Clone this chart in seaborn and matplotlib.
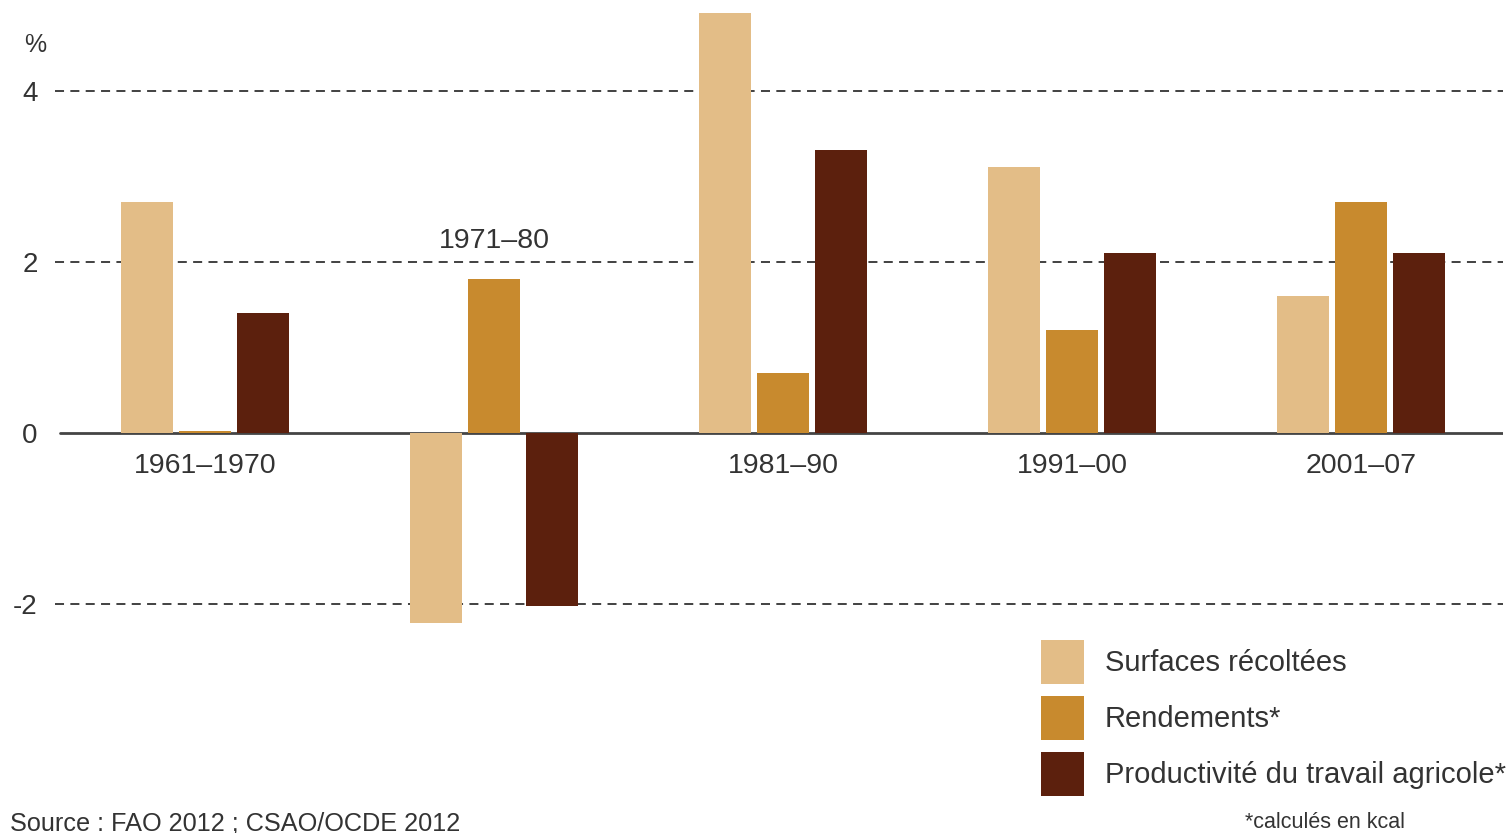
import pandas as pd
import numpy as np
import matplotlib.pyplot as plt
import seaborn as sns

periods = ["1961–1970", "1971–80", "1981–90", "1991–00", "2001–07"]
series = ["Surfaces récoltées", "Rendements*", "Productivité du travail agricole*"]
surfaces = [2.7, -2.22, 4.91, 3.11, 1.6]
rendements = [0.02, 1.8, 0.7, 1.2, 2.7]
productivite = [1.4, -2.02, 3.31, 2.11, 2.11]
colors = ["#E3BD87", "#C88A2E", "#5C200D"]
yticks = [-2, 0, 2, 4]

df = pd.DataFrame({
    "periode": periods * 3,
    "serie": [series[0]] * 5 + [series[1]] * 5 + [series[2]] * 5,
    "valeur": surfaces + rendements + productivite,
})

sns.set_style("white")
plt.rcParams["font.family"] = ["Liberation Sans", "DejaVu Sans"]
txt = "#333333"

fig = plt.figure(figsize=(15.1, 8.33), dpi=100)
ax = fig.add_axes([55 / 1510, 0, 1 - 62 / 1510, 1])

sns.barplot(data=df, x="periode", y="valeur", hue="serie", order=periods,
            hue_order=series, palette=colors, width=0.6, gap=0.1,
            linewidth=0, saturation=1, errorbar=None, ax=ax)

ax.set_xlim(-0.519, 4.491)
ax.set_ylim(-4.678, 5.064)

for y in [-2, 2, 4]:
    ax.axhline(y, color="#333333", lw=1.3, ls=(0, (5, 3.5)), zorder=0.5)
ax.axhline(0, color="#444444", lw=2, xmin=5 / 1448, zorder=0.5)

for s in ax.spines.values():
    s.set_visible(False)
ax.set_xticks([])
ax.set_yticks(yticks)
ax.set_yticklabels([str(t) for t in yticks], fontsize=20, color=txt)
ax.tick_params(axis="y", length=0, pad=12.5)
ax.set_xlabel("")
ax.set_ylabel("")

# period labels, under the zero line except 1971-80 which sits above its bars
for i, p in enumerate(periods):
    yl = 2.24 if p == "1971–80" else -0.39
    ax.text(i, yl, p, ha="center", va="center", fontsize=20.5, color=txt)

fig.text(35 / 1510, 1 - 45 / 833, "%", ha="center", va="center", fontsize=18, color=txt)

handles, labels = ax.get_legend_handles_labels()
ax.legend(handles, labels, loc="upper left", bbox_to_anchor=(1041 / 1510, 1 - 640 / 833),
          bbox_transform=fig.transFigure, frameon=False, fontsize=21,
          handlelength=1.47, handleheight=1.94, labelspacing=0.41,
          handletextpad=0.72, borderpad=0, borderaxespad=0, labelcolor=txt)

fig.text(10 / 1510, 1 - 823 / 833, "Source : FAO 2012 ; CSAO/OCDE 2012",
         ha="left", va="center", fontsize=18.2, color=txt)
fig.text(1325 / 1510, 1 - 823 / 833, "*calculés en kcal",
         ha="center", va="center", fontsize=15.5, color=txt)

fig.savefig("out.png", dpi=100)
